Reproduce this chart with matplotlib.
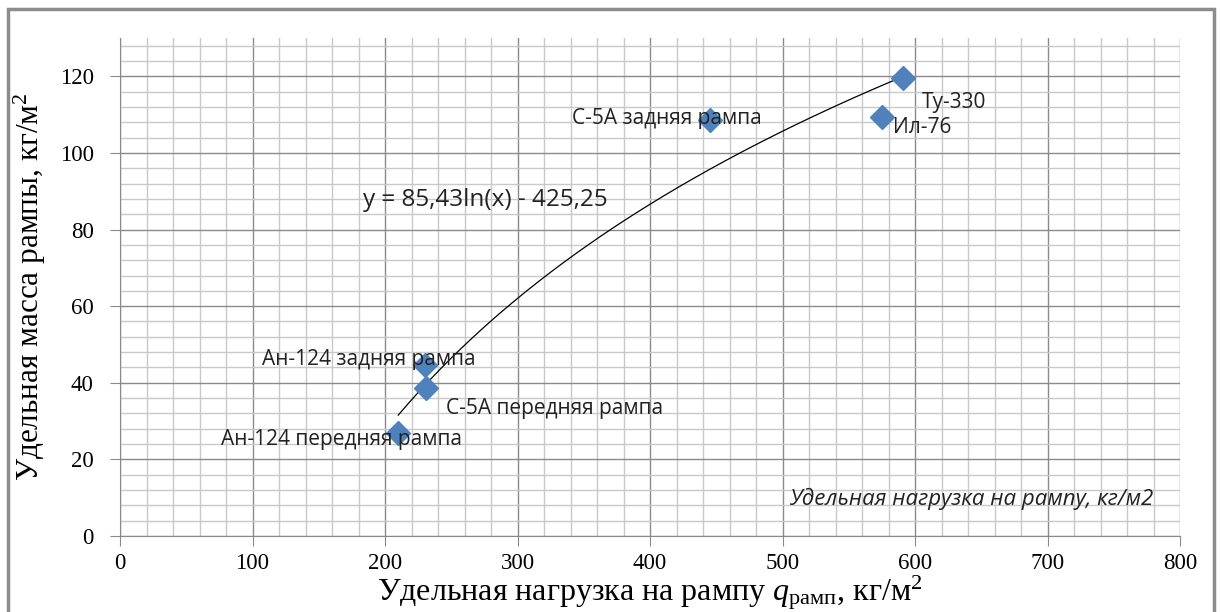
import matplotlib
matplotlib.use("Agg")
import matplotlib.pyplot as plt
import numpy as np
from matplotlib.patches import Rectangle
from matplotlib.ticker import MultipleLocator

# ramp data
names = ["Ан-124 передняя рампа", "Ан-124 задняя рампа", "С-5А передняя рампа",
         "С-5А задняя рампа", "Ил-76", "Ту-330"]
q_ramp = [210, 230, 231, 445, 575, 591]
m_ramp = [27, 44.6, 38.6, 108.6, 109.4, 119.6]

# label offsets in pixels from the marker (left edge, vertical centre; down is +)
label_dx = [-177, -163, 20, -138, 11, 19]
label_dy = [7, -6, 20, -1, 11, 25]

# trendline y = 85,43 ln(x) - 425,25
a_coef, b_coef = 85.43, -425.25

plt.rcParams["mathtext.fontset"] = "custom"
plt.rcParams["mathtext.rm"] = "Liberation Serif"
plt.rcParams["mathtext.it"] = "Liberation Serif:italic"

fig = plt.figure(figsize=(12.22, 6.12), dpi=100)
fig.patches.append(Rectangle((8 / 1222, -0.05), 1206 / 1222, (612 - 9) / 612 + 0.05,
                             transform=fig.transFigure, fill=False,
                             edgecolor="#8c8c8c", linewidth=2.5))

ax = fig.add_axes([120 / 1222, 1 - 536 / 612, 1060 / 1222, (536 - 38) / 612])
ax.set_xlim(0, 800)
ax.set_ylim(0, 130)

ax.xaxis.set_major_locator(MultipleLocator(100))
ax.xaxis.set_minor_locator(MultipleLocator(20))
ax.yaxis.set_major_locator(MultipleLocator(20))
ax.yaxis.set_minor_locator(MultipleLocator(4))
ax.grid(which="major", color="#8a8a8a", linewidth=1.0)
ax.grid(which="minor", color="#c9c9c9", linewidth=1.0)
ax.set_axisbelow(True)

for s in ["top", "right"]:
    ax.spines[s].set_visible(False)
ax.spines["left"].set_color("#8a8a8a")
ax.spines["bottom"].set_color("#8a8a8a")
ax.tick_params(which="major", direction="out", length=7, color="#8a8a8a",
               labelsize=16.5)
ax.tick_params(axis="y", which="major", pad=12)
ax.tick_params(axis="x", which="major", pad=5)
ax.tick_params(which="minor", length=0)
for lab in ax.get_xticklabels() + ax.get_yticklabels():
    lab.set_fontfamily("Liberation Serif")

xx = np.linspace(min(q_ramp), max(q_ramp), 200)
ax.plot(xx, a_coef * np.log(xx) + b_coef, color="black", linewidth=0.9)

ax.plot(q_ramp, m_ramp, linestyle="none", marker="D", markersize=12,
        color="#4F81BD", markeredgecolor="#4F81BD")

for n, x, y, dx, dy in zip(names, q_ramp, m_ramp, label_dx, label_dy):
    ax.annotate(n, (x, y), xytext=(dx * 0.72, -dy * 0.72), textcoords="offset points",
                ha="left", va="center", fontsize=15, family="Open Sans", color="#222222")

ax.text((363 - 120) / 1.325, (536 - 200) / 3.83, "y = 85,43ln(x) - 425,25",
        ha="left", va="center", fontsize=17.5, family="Open Sans", color="#222222")

ax.text(0.975, 0.075, "Удельная нагрузка на рампу, кг/м2", transform=ax.transAxes,
        ha="right", va="center", fontsize=16, family="Open Sans", style="italic",
        color="#222222")

ax.set_xlabel(r"Удельная нагрузка на рампу $q_{\mathrm{рамп}}$, кг/м$^2$",
              fontsize=23, family="Liberation Serif", labelpad=0)
ax.set_ylabel(r"Удельная масса рампы, кг/м$^2$", fontsize=22.5,
              family="Liberation Serif", labelpad=8)

fig.savefig("out.png", dpi=100)
